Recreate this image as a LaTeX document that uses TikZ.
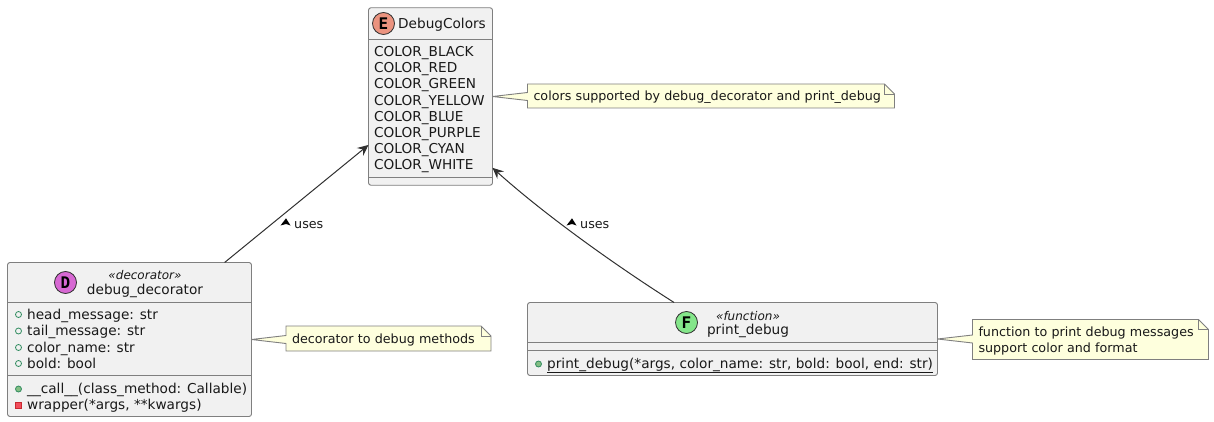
\documentclass[tikz,border=0pt]{standalone}
\usepackage{fontspec}
\usepackage{xcolor}
\usepackage{tikz}
\usetikzlibrary{calc,positioning,arrows.meta,backgrounds}
\setmainfont{DejaVu Sans}
\setmonofont{DejaVu Sans Mono}
\definecolor{boxfill}{HTML}{F1F1F1}
\definecolor{boxline}{HTML}{7F7F7F}
\definecolor{notefill}{HTML}{FEFFDD}
\definecolor{inkline}{HTML}{303030}
\definecolor{enumspot}{HTML}{EB937F}
\definecolor{decospot}{HTML}{D768D3}
\definecolor{funcspot}{HTML}{84E68A}
\definecolor{publine}{HTML}{2F8B5F}
\definecolor{pubfill}{HTML}{84BE84}
\definecolor{privline}{HTML}{C82930}
\definecolor{privfill}{HTML}{F24D5C}
\tikzset{
    classbox/.style={draw=boxline, fill=boxfill, line width=0.9pt, rounded corners=2.5pt, inner sep=0pt, outer sep=0pt},
    sepline/.style={draw=boxline, line width=0.9pt},
    spot/.style={circle, draw=inkline, line width=0.8pt, minimum size=22pt, inner sep=0pt, font=\fontsize{16}{16}\selectfont\ttfamily\bfseries},
    titletext/.style={font=\fontsize{13.65}{16}\selectfont, inner sep=0pt, text=black!90},
    stereotext/.style={font=\fontsize{12}{14}\selectfont\itshape, inner sep=0pt, text=black!90},
    membertext/.style={font=\fontsize{13.65}{16}\selectfont, inner sep=0pt, anchor=base west, text=black!90},
    pubfield/.style={circle, draw=publine, line width=0.8pt, minimum size=6pt, inner sep=0pt},
    pubmethod/.style={pubfield, fill=pubfill},
    privmethod/.style={rectangle, draw=privline, fill=privfill, line width=0.8pt, minimum size=6pt, inner sep=0pt},
    notebox/.style={inner ysep=0pt, inner xsep=6pt, outer sep=0pt, anchor=west, align=left, text depth=0pt, font=\fontsize{12.7}{15.5}\selectfont, text=black!90},
    noteline/.style={draw=boxline, fill=notefill, line width=0.9pt, line join=miter},
    uses/.style={draw=inkline, line width=1pt, {Stealth[length=11pt,width=10pt,inset=4pt]}-},
    useslabel/.style={font=\fontsize{12.7}{15}\selectfont, inner sep=0pt, anchor=west, text=black!90},
}
\newcommand{\notepath}[2]{
    \begin{scope}[on background layer]
        \draw[noteline] (#1.north west) -- ($(#1.north east)+(-10,0)$) -- ($(#1.north east)+(0,10)$)
            -- (#1.south east) -- (#1.south west) -- ($(#1.west |- #2.east)+(0,4)$) -- (#2.east)
            -- ($(#1.west |- #2.east)+(0,-4)$) -- cycle;
        \draw[noteline, fill=none] ($(#1.north east)+(-10,0)$) -- ($(#1.north east)+(-10,10)$) -- ($(#1.north east)+(0,10)$);
    \end{scope}
}
\newcommand{\usesmark}[1]{
    \fill[black] ($(#1.west)+(-13.5,0.5)$) -- ($(#1.west)+(-8,-6.7)$) -- ($(#1.west)+(-3.5,0.5)$) -- ($(#1.west)+(-8,-1)$) -- cycle;
}

\begin{document}
\begin{tikzpicture}[x=1pt, y=-1pt]
    \useasboundingbox (0,0) rectangle (1214,422);

    % class boxes
    \node[classbox, minimum width=124pt, minimum height=177.5pt] (debugcolors) at (430.5,96.5) {};
    \node[classbox, minimum width=244pt, minimum height=154pt] (debugdecorator) at (129.5,339.5) {};
    \node[classbox, minimum width=410pt, minimum height=73pt] (printdebug) at (732.5,339) {};

    % separators
    \draw[sepline] (debugcolors.west |- 0,39.5) -- (debugcolors.east |- 0,39.5);
    \draw[sepline] (debugcolors.west |- 0,177) -- (debugcolors.east |- 0,177);
    \draw[sepline] (debugdecorator.west |- 0,302.5) -- (debugdecorator.east |- 0,302.5);
    \draw[sepline] (debugdecorator.west |- 0,375.5) -- (debugdecorator.east |- 0,375.5);
    \draw[sepline] (printdebug.west |- 0,342.5) -- (printdebug.east |- 0,342.5);
    \draw[sepline] (printdebug.west |- 0,350) -- (printdebug.east |- 0,350);

    % headers
    \node[spot, fill=enumspot] (espot) at (383.5,23.5) {E};
    \node[titletext, anchor=west] (colorstitle) at (398,24.5) {DebugColors};
    \node[spot, fill=decospot] (dspot) at (65.5,282.5) {D};
    \node[stereotext] (decostereo) at (145,275.5) {«decorator»};
    \node[titletext] (decotitle) at (145,291) {debug\_decorator};
    \node[spot, fill=funcspot] (fspot) at (686.5,322.5) {F};
    \node[stereotext] (funcstereo) at (748,316.5) {«function»};
    \node[titletext] (functitle) at (748,331) {print\_debug};

    % enum values
    \foreach \colorname [count=\i from 0] in {BLACK,RED,GREEN,YELLOW,BLUE,PURPLE,CYAN,WHITE}
        \node[membertext] (color\i) at (374,56.5+16.2*\i) {COLOR\_\colorname};

    % fields and methods
    \foreach \fieldname/\ypos [count=\i] in {head\_message: str/319, tail\_message: str/335.5, color\_name: str/352, bold: bool/368} {
        \node[pubfield] (fieldicon\i) at (18.5,\ypos-4.5) {};
        \node[membertext] (field\i) at (27,\ypos) {\fieldname};
    }
    \node[pubmethod] (callicon) at (18.5,389) {};
    \node[membertext] (callmethod) at (27,393) {\_\_call\_\_(class\_method: Callable)};
    \node[privmethod] (wrapicon) at (18.5,405) {};
    \node[membertext] (wrapmethod) at (27,409) {wrapper(*args, **kwargs)};
    \node[pubmethod] (printicon) at (538.5,364) {};
    \node[membertext] (printmethod) at (547,368) {\underline{print\_debug(*args, color\_name: str, bold: bool, end: str)}};

    % notes
    \node[notebox, text width=355pt, minimum height=24pt] (colorsnote) at (527.5,96) {colors supported by debug\_decorator and print\_debug};
    \node[notebox, text width=193pt, minimum height=25pt] (deconote) at (286,338.5) {decorator to debug methods};
    \node[notebox, text width=224pt, minimum height=40pt, text depth=15pt] (funcnote) at (972.5,339.5) {function to print debug messages\\support color and format};
    \notepath{colorsnote}{debugcolors}
    \notepath{deconote}{debugdecorator}
    \notepath{funcnote}{printdebug}

    % links
    \draw[uses] (debugcolors.218.6) -- (debugdecorator.39.2);
    \draw[uses] (debugcolors.-49.66) .. controls (545,215) and (615,265) .. (printdebug.148.9);
    \node[useslabel] (usesleft) at (294,225) {uses};
    \node[useslabel] (usesright) at (580,225) {uses};
    \usesmark{usesleft}
    \usesmark{usesright}
\end{tikzpicture}
\end{document}
